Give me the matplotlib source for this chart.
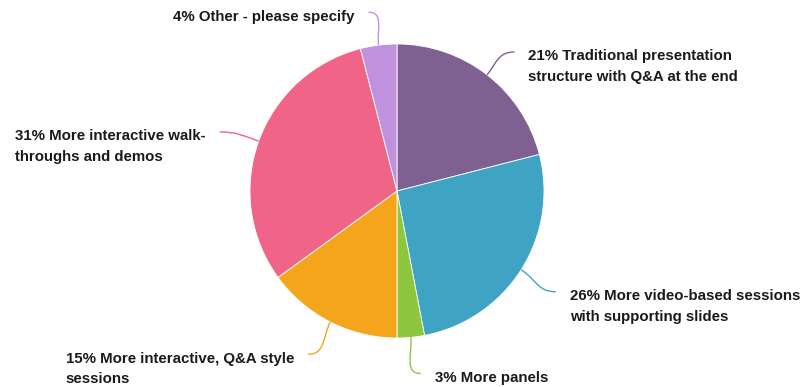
import numpy as np
import matplotlib.pyplot as plt
from matplotlib.path import Path
from matplotlib.patches import PathPatch

# survey answers, clockwise from 12 o'clock
labels = [
    "Traditional presentation\nstructure with Q&A at the end",
    "More video-based sessions\nwith supporting slides",
    "More panels",
    "More interactive, Q&A style\nsessions",
    "More interactive walk-\nthroughs and demos",
    "Other - please specify",
]
shares = [21, 26, 3, 15, 31, 4]
colors = ["#7e6192", "#3fa3c3", "#8dc63f", "#f5a51c", "#f06587", "#c091dc"]

W, H = 802, 387
cx, cy, r = 397, H - 191, 147
# leader line end: distance from centre and small angle nudge (deg)
label_r = [182, 188, 184, 186, 187, 181]
label_nudge = [-2.4, 0.0, 2.0, -1.6, 1.4, 1.8]

plt.rcParams['font.family'] = ['Liberation Sans', 'DejaVu Sans']
fig = plt.figure(figsize=(W / 100, H / 100), dpi=100)
ax = fig.add_axes([0, 0, 1, 1])

ax.pie(shares, colors=colors, startangle=90, counterclock=False,
       center=(cx, cy), radius=r,
       wedgeprops=dict(linewidth=0.6, edgecolor="white"))
ax.set_xlim(0, W)
ax.set_ylim(0, H)
ax.set_aspect("equal")
ax.axis("off")

total = float(sum(shares))
start = 90.0
for lab, val, col, lr, nd in zip(labels, shares, colors, label_r, label_nudge):
    span = 360.0 * val / total
    mid = np.radians(start - span / 2)
    start -= span
    u = np.array([np.cos(mid), np.sin(mid)])
    p0 = np.array([cx, cy]) + r * u
    a2 = mid + np.radians(nd)
    p3 = np.array([cx + lr * np.cos(a2), cy + lr * np.sin(a2)])
    side = 1 if u[0] >= 0 else -1
    k = 0.45 * np.hypot(*(p3 - p0))
    p1 = p0 + k * u
    p2 = p3 - np.array([side * k, 0])
    path = Path([p0, p1, p2, p3],
                [Path.MOVETO, Path.CURVE4, Path.CURVE4, Path.CURVE4])
    ax.add_patch(PathPatch(path, facecolor="none", edgecolor=col, lw=1.0))
    ax.text(p3[0] + side * 14, p3[1] + 2.5, f"{val}% {lab}",
            ha="left" if side > 0 else "right", va="top",
            multialignment="left",
            fontsize=10.8, fontweight="bold", color="#1a1a1a",
            linespacing=1.6)

fig.savefig("out.png", dpi=100)
